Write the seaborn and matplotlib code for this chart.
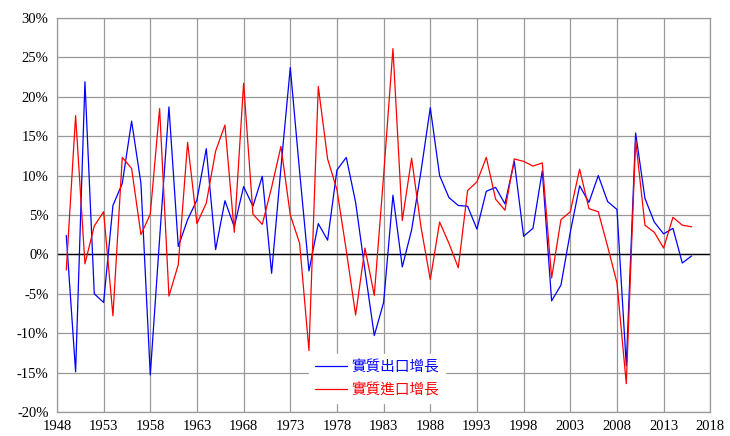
import numpy as np
import pandas as pd
import matplotlib
matplotlib.use('Agg')
import matplotlib.pyplot as plt
import seaborn as sns

# Datos
# ==============================================================================
years = list(range(1949, 2017))

export_growth = [
    2.4, -14.9, 21.9, -5.0, -6.1, 6.2, 9.0, 16.9, 9.0, -15.3,
    2.0, 18.7, 1.0, 4.4, 6.9, 13.4, 0.6, 6.8, 3.5, 8.6,
    6.1, 9.9, -2.4, 11.0, 23.7, 10.5, -2.1, 3.9, 1.8, 10.7,
    12.3, 6.6, -2.0, -10.3, -6.1, 7.5, -1.6, 3.1, 10.5, 18.6,
    10.0, 7.2, 6.2, 6.1, 3.2, 8.0, 8.5, 6.4, 11.8, 2.3,
    3.3, 10.6, -5.9, -3.9, 2.8, 8.7, 6.6, 10.0, 6.7, 5.7,
    -14.1, 15.4, 7.1, 4.1, 2.6, 3.3, -1.1, -0.2,
]

import_growth = [
    -2.0, 17.6, -1.2, 3.6, 5.4, -7.8, 12.3, 10.9, 2.5, 5.1,
    18.5, -5.3, -1.3, 14.2, 3.9, 6.5, 13.1, 16.4, 2.8, 21.7,
    5.1, 3.8, 8.5, 13.7, 5.0, 1.4, -12.2, 21.3, 12.1, 8.2,
    0.5, -7.7, 0.8, -5.2, 10.0, 26.1, 4.3, 12.2, 3.5, -3.2,
    4.1, 1.4, -1.7, 8.1, 9.2, 12.3, 7.0, 5.6, 12.1, 11.8,
    11.2, 11.6, -3.0, 4.4, 5.4, 10.8, 5.8, 5.4, 1.0, -3.6,
    -16.4, 14.5, 3.7, 2.8, 0.8, 4.7, 3.7, 3.5,
]

series_names = ['實質出口增長', '實質進口增長']
series_colors = ['#0000ff', '#ff0000']

x_ticks = list(range(1948, 2019, 5))
y_ticks = list(range(-20, 31, 5))

datos = pd.DataFrame({
    'year': years * 2,
    'value': export_growth + import_growth,
    'serie': [series_names[0]] * len(years) + [series_names[1]] * len(years),
})

# Gráfico
# ==============================================================================
sns.set_style('white')
plt.rcParams['font.family'] = ['Liberation Serif', 'Noto Sans CJK TC', 'DejaVu Sans']

fig = plt.figure(figsize=(7.3, 4.36), dpi=100)
ax = fig.add_axes([0.078, 0.055, 0.895, 0.904])

sns.lineplot(
    data=datos, x='year', y='value', hue='serie',
    palette=dict(zip(series_names, series_colors)),
    linewidth=0.9, ax=ax, legend=False, zorder=3
)

ax.axhline(0, color='black', linewidth=1.0, zorder=2)

ax.set_xlim(1948, 2018)
ax.set_ylim(-20, 30)
ax.set_xticks(x_ticks)
ax.set_yticks(y_ticks)
ax.set_yticklabels([f'{v}%' for v in y_ticks])
ax.tick_params(axis='both', labelsize=10.5, length=0, pad=6, colors='black')
ax.grid(True, color='#999999', linewidth=0.9)
for s in ax.spines.values():
    s.set_color('#999999')
    s.set_linewidth(0.9)
ax.set_xlabel('')
ax.set_ylabel('')

handles = [plt.Line2D([], [], color=c, linewidth=0.9) for c in series_colors]
leg = ax.legend(
    handles, series_names, loc='upper left', bbox_to_anchor=(0.375, 0.165),
    frameon=True, fancybox=False, edgecolor='white', framealpha=1,
    handlelength=2.2, handletextpad=0.3, labelspacing=0.6,
    prop={'family': ['Noto Sans CJK TC'], 'size': 10.5}, borderpad=0.4
)
for text, c in zip(leg.get_texts(), series_colors):
    text.set_color(c)

fig.savefig('out.png', dpi=100)
